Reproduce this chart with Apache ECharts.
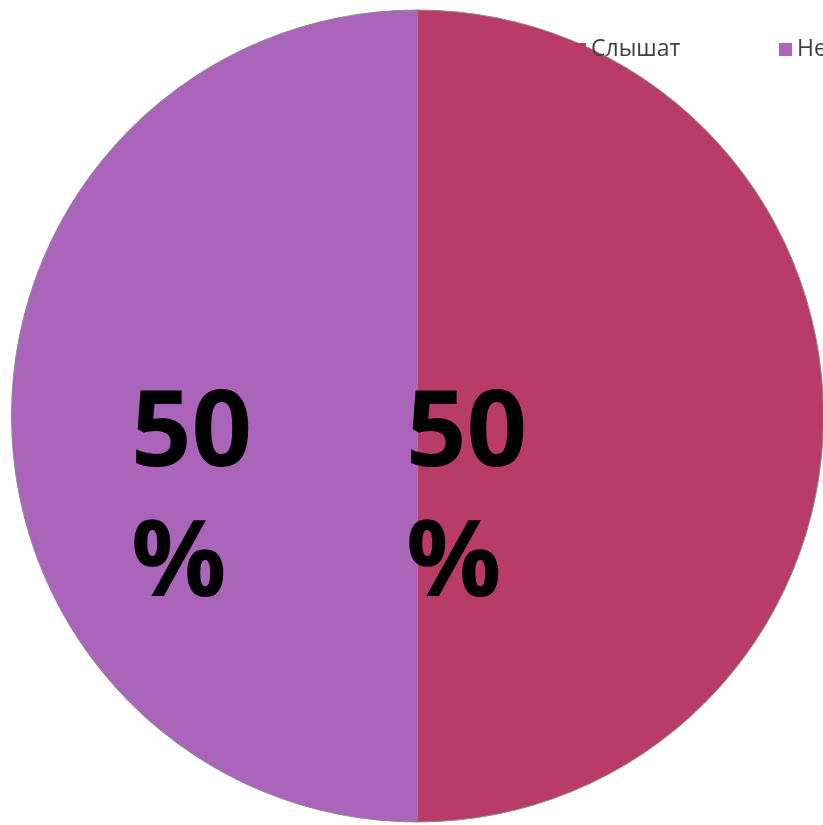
<!DOCTYPE html>
<html>
<head>
<meta charset="utf-8">
<script src="https://cdn.jsdelivr.net/npm/echarts@6/dist/echarts.min.js"></script>
<style>
  html, body { margin: 0; padding: 0; background: #fff; }
  #chart { width: 823px; height: 825px; }
</style>
</head>
<body>
<div id="chart"></div>
<script>
const categories = ["Слышат", "Не слышат"];
const values = [50, 50];
const colors = ["#B93C68", "#AA65BA"];

// label anchor (left edge, vertical middle) per slice
const labelX = [406, 131];
const labelY = 501;

const chart = echarts.init(document.getElementById("chart"), null, { renderer: "canvas" });

const legendBase = {
  top: 33,
  orient: "horizontal",
  icon: "rect",
  itemWidth: 13,
  itemHeight: 13,
  selectedMode: false,
  itemStyle: { borderWidth: 0 },
  textStyle: {
    fontFamily: "'Open Sans', sans-serif",
    fontSize: 23,
    color: "#404040",
  },
};

chart.setOption({
  animation: false,
  legend: [
    { ...legendBase, left: 568, data: [categories[0]] },
    { ...legendBase, left: 774, data: [categories[1]] },
  ],
  series: [
    {
      type: "pie",
      center: [417.5, 416],
      radius: 406,
      startAngle: 90,
      clockwise: true,
      data: categories.map((name, i) => ({
        name,
        value: values[i],
        itemStyle: { color: colors[i] },
      })),
      itemStyle: { borderColor: "#8a8a8a", borderWidth: 1 },
      label: {
        show: true,
        position: "inside",
        formatter: "{c}\n%",
        fontFamily: "'Open Sans', sans-serif",
        fontWeight: "bold",
        fontSize: 106,
        lineHeight: 130,
        color: "#000",
        align: "left",
      },
      labelLine: { show: false },
      labelLayout: (params) => ({
        x: labelX[params.dataIndex],
        y: labelY,
        align: "left",
        verticalAlign: "middle",
      }),
      emphasis: { disabled: true },
    },
  ],
});
</script>
</body>
</html>
